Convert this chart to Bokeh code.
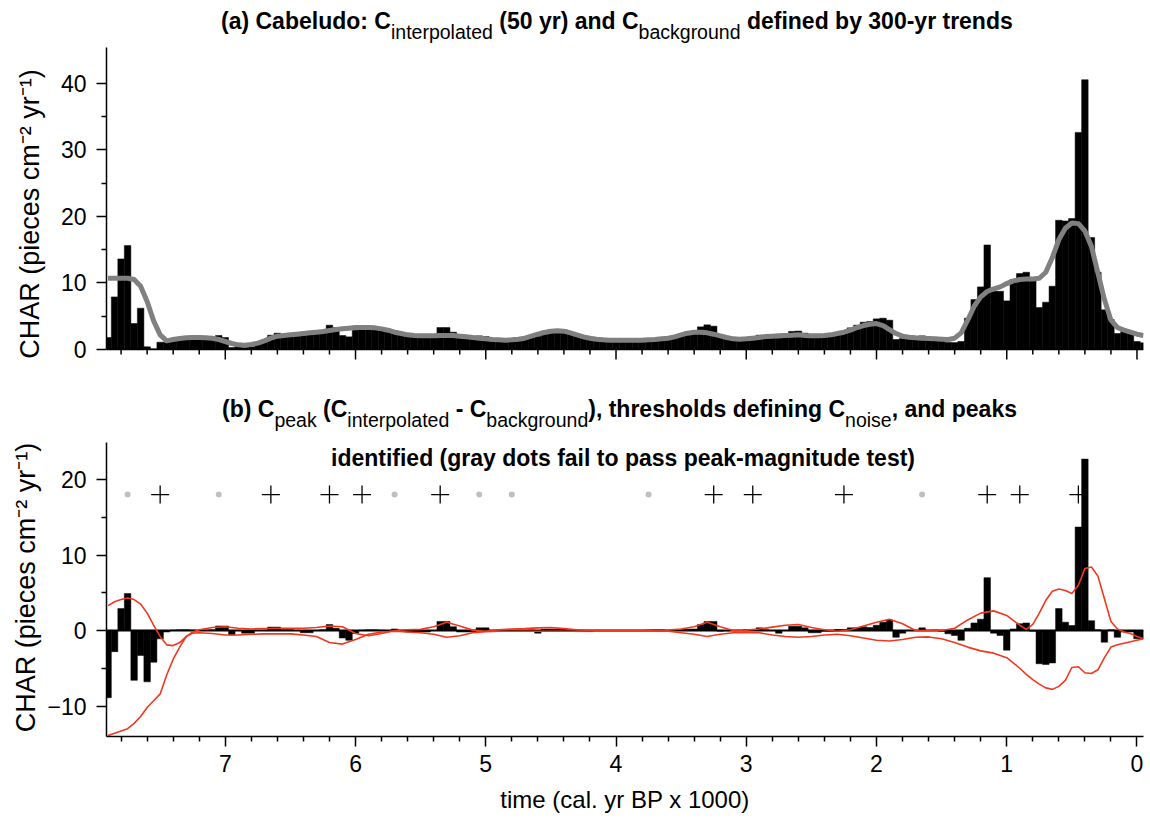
from bokeh.plotting import figure
from bokeh.models import Range1d, FixedTicker, Label, Span, Div
from bokeh.layouts import column
from bokeh.embed import file_html
from bokeh.resources import INLINE

# ---------------- data (ages in cal. kyr BP, 50-yr interpolation bins) ----------------
age = [round(7.90 - 0.05 * i, 2) for i in range(160)]

c_background = [
    10.7, 10.7, 10.7, 10.7, 10.5, 9.5, 7.2, 4.3, 2.2, 1.3,
    1.5, 1.65, 1.75, 1.8, 1.8, 1.75, 1.7, 1.5, 1.2, 0.9,
    0.7, 0.65, 0.75, 0.95, 1.3, 1.7, 2.0, 2.1, 2.2, 2.3,
    2.4, 2.5, 2.6, 2.7, 2.85, 3.0, 3.1, 3.2, 3.3, 3.3,
    3.3, 3.25, 3.1, 2.9, 2.6, 2.4, 2.2, 2.1, 2.05, 2.05,
    2.05, 2.1, 2.1, 2.1, 2.0, 1.9, 1.8, 1.7, 1.6, 1.5,
    1.45, 1.4, 1.45, 1.55, 1.7, 2.0, 2.3, 2.55, 2.75, 2.8,
    2.75, 2.5, 2.2, 1.9, 1.7, 1.55, 1.45, 1.4, 1.4, 1.4,
    1.4, 1.4, 1.4, 1.45, 1.5, 1.6, 1.7, 1.9, 2.2, 2.45,
    2.6, 2.6, 2.5, 2.3, 2.05, 1.8, 1.6, 1.55, 1.6, 1.7,
    1.8, 1.95, 2.0, 2.05, 2.1, 2.15, 2.2, 2.1, 2.05, 2.05,
    2.1, 2.2, 2.4, 2.6, 2.9, 3.3, 3.6, 3.8, 3.9, 3.6,
    3.0, 2.4, 2.0, 1.85, 1.75, 1.7, 1.65, 1.6, 1.55, 1.5,
    1.7, 2.5, 4.4, 6.5, 7.9, 8.7, 9.1, 9.4, 9.9, 10.3,
    10.5, 10.6, 10.6, 10.7, 11.6, 13.8, 16.5, 18.2, 19.0, 18.9,
    17.8, 15.5, 11.5, 7.5, 4.4, 3.3, 2.9, 2.6, 2.3, 2.1,
]

c_peak = [
    -8.9, -2.8, 2.9, 4.9, -6.6, -3.3, -6.8, -4.2, -1.1, -0.2,
    0.05, 0.1, 0.1, 0.05, 0.0, 0.05, 0.1, 0.6, 0.6, -0.6,
    0.0, -0.35, -0.35, 0.0, 0.05, 0.45, 0.45, 0.1, 0.1, 0.0,
    -0.3, -0.3, 0.0, 0.1, 0.8, 0.3, -1.0, -1.3, -0.4, 0.05,
    0.1, 0.1, 0.05, 0.0, 0.2, 0.0, -0.2, -0.2, -0.2, -0.2,
    0.0, 1.2, 1.2, 0.5, -0.2, -0.2, -0.2, 0.35, 0.35, -0.1,
    -0.1, -0.1, 0.0, 0.0, 0.0, 0.05, -0.35, 0.2, 0.2, 0.2,
    0.2, 0.0, -0.15, -0.15, -0.15, 0.0, 0.0, 0.0, 0.0, 0.0,
    0.0, 0.0, 0.0, 0.05, 0.1, 0.1, 0.0, 0.0, 0.1, 0.2,
    0.2, 0.8, 1.2, 1.2, -0.1, -0.05, 0.0, 0.0, 0.1, 0.1,
    0.35, 0.1, 0.0, -0.35, 0.0, 0.57, 0.57, 0.35, -0.3, -0.3,
    -0.1, -0.1, 0.13, 0.13, 0.35, 0.35, 0.5, 0.4, 0.7, 1.1,
    1.4, -0.9, -0.35, 0.0, 0.0, 0.35, 0.0, 0.05, -0.1, -0.44,
    -0.66, -1.3, 0.3, 1.0, 1.5, 7.0, -0.35, -0.66, -2.6, 0.2,
    0.9, 1.0, -0.1, -4.4, -4.5, -4.3, 2.9, 1.1, 0.66, 13.7,
    22.7, 1.3, 0.1, -1.55, 0.1, -0.9, -0.2, -0.2, -1.1, -1.1,
]

# C_interpolated = C_background + C_peak
c_interp = [round(b + p, 3) for b, p in zip(c_background, c_peak)]

thr_age = [7.90, 7.85, 7.80, 7.75, 7.70, 7.65, 7.60, 7.55, 7.50, 7.45, 7.40, 7.35, 7.30, 7.25, 7.20,
           7.10, 7.00, 6.90, 6.80, 6.70, 6.60, 6.50, 6.40, 6.30, 6.20, 6.10, 6.00, 5.90, 5.80, 5.70,
           5.60, 5.50, 5.40, 5.30, 5.20, 5.10, 5.00, 4.90, 4.80, 4.70, 4.60, 4.50, 4.40, 4.30, 4.20,
           4.00, 3.80,
           3.60, 3.50, 3.40, 3.30, 3.20, 3.10, 3.00, 2.90, 2.80, 2.70, 2.60, 2.50, 2.40, 2.30,
           2.20, 2.10, 2.00, 1.90, 1.80, 1.70, 1.60, 1.50, 1.40, 1.30, 1.20, 1.10, 1.00, 0.90,
           0.85, 0.80, 0.75, 0.70, 0.65, 0.60, 0.55, 0.50, 0.45, 0.40, 0.35, 0.30, 0.25, 0.20,
           0.15, 0.10, 0.05, 0.00, -0.05]
thr_hi = [3.3, 3.8, 4.1, 4.3, 4.1, 3.5, 2.3, 0.7, -0.8, -1.9, -2.0, -1.6, -0.8, -0.2, 0.1,
          0.4, 0.5, 0.3, 0.2, 0.25, 0.3, 0.3, 0.3, 0.4, 0.6, 0.5, -0.4, -0.7, -0.4, 0.0,
          0.1, 0.15, 0.5, 1.1, 0.6, 0.05, -0.1, 0.1, 0.2, 0.25, 0.35, 0.4, 0.25, 0.1, 0.0,
          0.0, 0.0,
          0.05, 0.2, 0.5, 1.1, 0.5, 0.0, 0.05, 0.2, 0.45, 0.7, 0.8, 0.4, 0.1, -0.1,
          0.1, 0.6, 1.1, 1.5, 0.9, 0.0, 0.0, 0.0, 0.3, 1.4, 2.3, 2.6, 2.0, 0.7,
          0.15, 0.8, 2.3, 4.0, 5.2, 5.5, 5.3, 4.9, 6.0, 8.2, 8.4, 7.2, 4.2, 1.2,
          0.2, -0.2, -0.4, -0.8, -1.1]
thr_lo = [-13.9, -13.6, -13.3, -13.0, -12.3, -11.4, -10.2, -9.3, -8.4, -5.9, -3.8, -2.2, -0.8, -0.35, -0.3,
          -0.4, -0.6, -0.6, -0.5, -0.45, -0.45, -0.45, -0.6, -0.8, -1.6, -1.8, -1.2, -0.5, -0.2, -0.1,
          -0.2, -0.3, -0.5, -0.9, -0.7, -0.3, -0.15, -0.1, -0.1, -0.1, -0.1, -0.1, -0.1, -0.1, -0.05,
          -0.05, -0.05,
          -0.1, -0.3, -0.5, -0.8, -0.5, -0.3, -0.25, -0.3, -0.6, -0.8, -0.9, -0.8, -0.6, -0.5,
          -0.7, -1.0, -1.3, -1.4, -1.2, -0.9, -0.85, -1.1, -1.6, -2.2, -2.7, -3.0, -3.6, -5.0,
          -5.8, -6.5, -7.1, -7.6, -7.8, -7.4, -6.6, -4.9, -4.8, -5.6, -5.7, -5.2, -3.6, -2.2,
          -1.9, -1.7, -1.5, -1.3, -1.1]

peak_age = [7.50, 6.65, 6.20, 5.95, 5.35, 3.25, 2.95, 2.25, 1.15, 0.90, 0.45]
fail_age = [7.75, 7.05, 5.70, 5.05, 4.80, 3.75, 1.65]
marker_level = 18.0

x_major = [0, 1, 2, 3, 4, 5, 6, 7]
x_minor = [round(0.2 * k, 1) for k in range(40) if k % 5 != 0]
ya_major, ya_minor = [0, 10, 20, 30, 40], [5, 15, 25, 35]
yb_major, yb_minor = [-10, 0, 10, 20], [-5, 5, 15]

# ---------------- styling ----------------
FONT = "Liberation Sans"
W = 1150
FL, FR = 106, 7
RED = "#f0381e"
YLABEL = "CHAR (pieces cm\u207b\u00b2 yr\u207b\u00b9)"

# page geometry (px)
A_TOP, A_ZERO = 47, 349          # panel (a): frame top, y=0 line
A_PX = 6.66                      # px per unit, panel (a)
A_BOT = 380                      # frame reaches below the axis (room for tick marks / labels)
B_TOP, B_AXTOP, B_ZERO, B_BOT = 438, 442, 630, 736
B_PX = 7.55


def sub(t):
    return ('<span style="font-size:19.5px;font-weight:normal;vertical-align:-10px">%s</span>' % t)


def title_div(inner, height, pad_top, pad_left):
    html = ('<div style="font-family:\'Liberation Sans\',Arial,sans-serif;font-weight:bold;'
            'font-size:23px;line-height:23px;white-space:nowrap;color:black;'
            'padding-top:%dpx;padding-left:%dpx">%s</div>' % (pad_top, pad_left, inner))
    return Div(text=html, width=W, height=height, margin=0)


def style_axis(ax):
    ax.axis_line_color = "black"
    ax.axis_line_width = 1.5
    ax.major_tick_line_color = "black"
    ax.major_tick_line_width = 1.5
    ax.minor_tick_line_color = "black"
    ax.minor_tick_line_width = 1.5
    ax.major_tick_out = 10
    ax.major_tick_in = 0
    ax.minor_tick_out = 5
    ax.minor_tick_in = 0
    ax.major_label_text_font = FONT
    ax.major_label_text_color = "black"
    ax.axis_label_text_font = FONT
    ax.axis_label_text_font_style = "normal"
    ax.axis_label_text_color = "black"


def base_style(p, y_major, y_minor, bounds, ylab_standoff):
    p.outline_line_color = None
    p.xgrid.grid_line_color = None
    p.ygrid.grid_line_color = None
    p.background_fill_color = "white"
    p.border_fill_color = "white"
    ya = p.yaxis[0]
    style_axis(ya)
    ya.ticker = FixedTicker(ticks=y_major, minor_ticks=y_minor)
    ya.bounds = bounds
    ya.major_label_text_font_size = "23px"
    ya.major_label_standoff = 10
    ya.axis_label = YLABEL
    ya.axis_label_text_font_size = "27px"
    ya.axis_label_standoff = ylab_standoff


# ---------------- title (a) ----------------
div_a = title_div("(a) Cabeludo: C" + sub("interpolated") + " (50 yr) and C" + sub("background")
                  + " defined by 300-yr trends", A_TOP, 10, 221)

# ---------------- panel (a) ----------------
a_top_val = (A_ZERO - A_TOP) / A_PX
pa = figure(width=W, height=A_BOT - A_TOP, x_range=Range1d(7.912, -0.05),
            y_range=Range1d(-(A_BOT - A_ZERO) / A_PX, a_top_val),
            output_backend="svg", toolbar_location=None,
            min_border_left=FL, min_border_right=FR, min_border_top=0, min_border_bottom=0)
pa.xaxis.visible = False
base_style(pa, ya_major, ya_minor, (0, a_top_val), 13)
pa.vbar(x=age, width=0.05, bottom=0, top=c_interp, fill_color="black", line_color="black",
        line_width=0.5)
pa.line(age, c_background, line_color="#808080", line_width=5, line_join="round")
# time axis of panel (a): line and tick marks only (no labels)
pa.segment(x0=[pa.x_range.start], x1=[pa.x_range.end], y0=[0], y1=[0],
           line_color="black", line_width=1.5)
pa.segment(x0=x_major, x1=x_major, y0=[0] * len(x_major), y1=[-10 / A_PX] * len(x_major),
           line_color="black", line_width=1.5)
pa.segment(x0=x_minor, x1=x_minor, y0=[0] * len(x_minor), y1=[-5 / A_PX] * len(x_minor),
           line_color="black", line_width=1.5)

# ---------------- title (b), first line ----------------
div_b = title_div("(b) C" + sub("peak") + " (C" + sub("interpolated") + " - C" + sub("background")
                  + "), thresholds defining C" + sub("noise") + ", and peaks",
                  B_TOP - A_BOT, 418 - A_BOT - 20, 222)

# ---------------- panel (b) ----------------
pb = figure(width=W, height=823 - B_TOP, x_range=pa.x_range,
            y_range=Range1d(-(B_BOT - B_ZERO) / B_PX, (B_ZERO - B_TOP) / B_PX),
            output_backend="svg", toolbar_location=None,
            min_border_left=FL, min_border_right=FR, min_border_top=0,
            min_border_bottom=823 - B_BOT)
base_style(pb, yb_major, yb_minor, (-(B_BOT - B_ZERO) / B_PX, (B_ZERO - B_AXTOP) / B_PX), 3)
xa = pb.xaxis[0]
style_axis(xa)
xa.ticker = FixedTicker(ticks=x_major, minor_ticks=x_minor)
xa.major_label_text_font_size = "23px"
xa.major_label_standoff = 8
xa.axis_label = "time (cal. yr BP x 1000)"
xa.axis_label_text_font_size = "24px"
xa.axis_label_standoff = 11

pb.add_layout(Span(location=0, dimension="width", line_color="black", line_width=2,
                   level="underlay"))
pb.vbar(x=age, width=0.05, bottom=0, top=c_peak, fill_color="black", line_color="black",
        line_width=0.5)
pb.line(thr_age, thr_hi, line_color=RED, line_width=1.6)
pb.line(thr_age, thr_lo, line_color=RED, line_width=1.6)
pb.scatter(peak_age, [marker_level] * len(peak_age), marker="cross", size=18,
           line_color="black", line_width=1.3)
pb.scatter(fail_age, [marker_level] * len(fail_age), marker="circle", size=6,
           fill_color="#c0c0c0", line_color=None)

line2 = "identified (gray dots fail to pass peak-magnitude test)"
pb.add_layout(Label(x=622.5 - FL, y=B_BOT - 457.5, x_units="screen", y_units="screen",
                    text=line2, text_font=FONT, text_font_size="23px",
                    text_font_style="bold", text_baseline="alphabetic", text_align="center",
                    text_color="black"))

layout = column(div_a, pa, div_b, pb, spacing=0)
open("out.html", "w").write(file_html(layout, INLINE))
